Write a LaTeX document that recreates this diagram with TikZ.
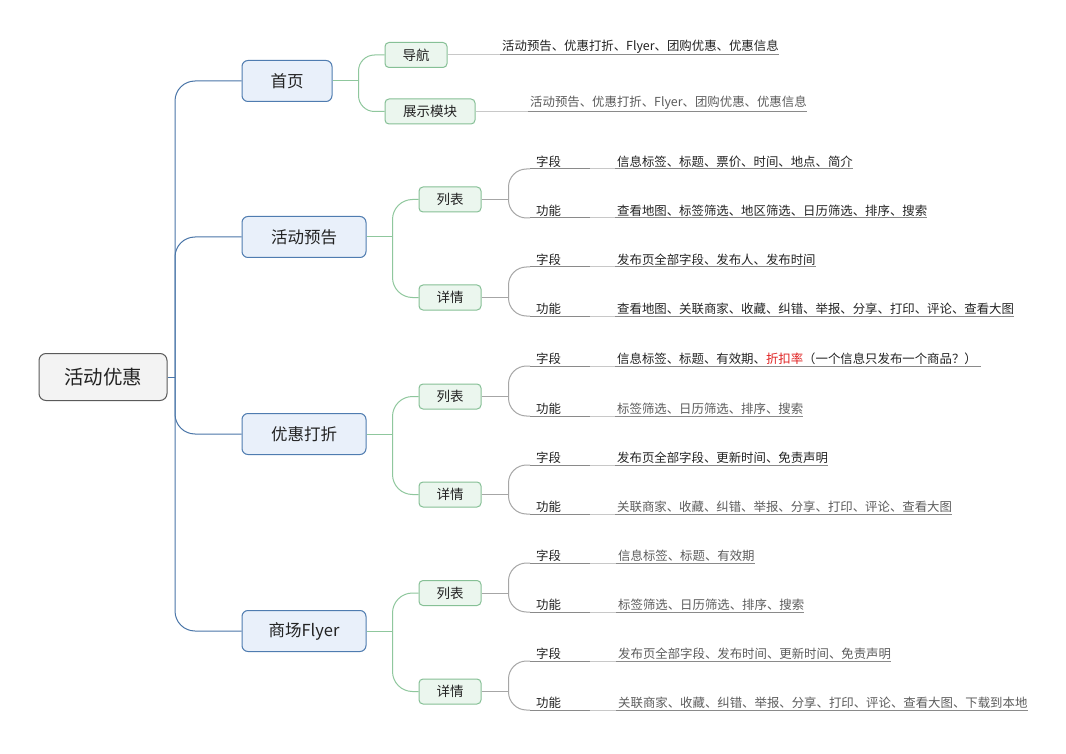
\documentclass[tikz,border=0pt]{standalone}
\usepackage{fontspec}
\setmainfont{Noto Sans CJK SC}
\usetikzlibrary{calc}

\definecolor{rootdraw}{HTML}{5A5A5A}
\definecolor{rootfill}{HTML}{F3F3F3}
\definecolor{bluedraw}{HTML}{4F7CB0}
\definecolor{bluefill}{HTML}{E9F0FA}
\definecolor{trunk}{HTML}{4A76A8}
\definecolor{greendraw}{HTML}{86C096}
\definecolor{greenfill}{HTML}{EBF6EE}
\definecolor{greenline}{HTML}{8FC79D}
\definecolor{greyline}{HTML}{A6A6A6}
\definecolor{ulc}{HTML}{8A8A8A}
\definecolor{lnkc}{HTML}{C8C8C8}
\definecolor{txt}{HTML}{222222}
\definecolor{txtg}{HTML}{5C5C5C}
\definecolor{warn}{HTML}{E02020}

\newcommand\ulin[1]{\draw[uln] (#1.south west) -- (#1.south east);}

\begin{document}
\begin{tikzpicture}[x=1pt,y=-1pt,
  rootbox/.style={draw=rootdraw, fill=rootfill, rounded corners=7pt, line width=1pt,
    minimum width=128pt, minimum height=47pt, text=txt, font=\fontsize{19.5}{22}\selectfont},
  mainbox/.style={draw=bluedraw, fill=bluefill, rounded corners=6pt, line width=1pt,
    minimum height=41pt, minimum width=124pt, text=txt, font=\fontsize{16.5}{19}\selectfont},
  subbox/.style={draw=greendraw, fill=greenfill, rounded corners=4pt, line width=1pt,
    minimum height=25pt, minimum width=62pt, inner ysep=0pt, text=txt, font=\fontsize{13.5}{16}\selectfont},
  lab/.style={anchor=south west, inner xsep=0pt, inner ysep=1.5pt, text=txt,
    font=\fontsize{12.4}{14}\selectfont},
  leaf/.style={lab},
  leafg/.style={lab, text=txtg},
  uln/.style={draw=ulc, line width=1pt},
  lnk/.style={draw=lnkc, line width=1pt},
  tline/.style={draw=trunk, line width=1pt},
  gline/.style={draw=greenline, line width=1pt},
  kline/.style={draw=greyline, line width=1pt},
]
\useasboundingbox (0,0) rectangle (1066,754);
\fill[white] (0,0) rectangle (1066,754);

% ---------- root and main topics ----------
\node[rootbox] (root) at (103,377) {活动优惠};
\node[mainbox, minimum width=90pt] (home) at (287,81) {首页};
\node[mainbox] (act) at (304,237) {活动预告};
\node[mainbox] (disc) at (304,434) {优惠打折};
\node[mainbox] (flyer) at (304,631) {商场Flyer};

\coordinate (rj) at (175,377);
\draw[tline] (root.east) -- (rj);
\foreach \m in {home,act,disc,flyer}
  \draw[tline, rounded corners=20pt] (rj) |- (\m.west);

% ---------- 首页 ----------
\node[subbox] (nav) at (416,55) {导航};
\node[subbox, minimum width=90pt] (show) at (430,111.5) {展示模块};
\coordinate (hj) at ($(home.east)+(26,0)$);
\draw[gline] (home.east) -- (hj);
\foreach \s in {nav,show}
  \draw[gline, rounded corners=16pt] (hj) |- (\s.west);

\node[leaf] (navT) at (500,55) {\hspace*{2pt}活动预告、优惠打折、Flyer、团购优惠、优惠信息};
\node[leafg] (showT) at (528,111.5) {\hspace*{2pt}活动预告、优惠打折、Flyer、团购优惠、优惠信息};
\ulin{navT}\ulin{showT}
\draw[lnk] (nav.east) -- (navT.south west);
\draw[lnk] (show.east) -- (showT.south west);

% ---------- 活动预告 ----------
\node[subbox] (aL) at (450,199.5) {列表};
\node[subbox] (aD) at (450,297.5) {详情};
\coordinate (aj) at ($(act.east)+(26,0)$);
\draw[gline] (act.east) -- (aj);
\foreach \s in {aL,aD}
  \draw[gline, rounded corners=20pt] (aj) |- (\s.west);

\node[lab] (aLf) at (530,169) {\hspace*{6pt}字段\hspace*{29pt}};
\node[lab] (aLg) at (530,218) {\hspace*{6pt}功能\hspace*{29pt}};
\node[lab] (aDf) at (530,267) {\hspace*{6pt}字段\hspace*{29pt}};
\node[lab] (aDg) at (530,316) {\hspace*{6pt}功能\hspace*{29pt}};
\node[leaf] (aLfT) at (615,169) {\hspace*{2pt}信息标签、标题、票价、时间、地点、简介};
\node[leaf] (aLgT) at (615,218) {\hspace*{2pt}查看地图、标签筛选、地区筛选、日历筛选、排序、搜索};
\node[leaf] (aDfT) at (615,267) {\hspace*{2pt}发布页全部字段、发布人、发布时间};
\node[leaf] (aDgT) at (615,316) {\hspace*{2pt}查看地图、关联商家、收藏、纠错、举报、分享、打印、评论、查看大图};

% ---------- 优惠打折 ----------
\node[subbox] (dL) at (450,396.5) {列表};
\node[subbox] (dD) at (450,494.5) {详情};
\coordinate (dj) at ($(disc.east)+(26,0)$);
\draw[gline] (disc.east) -- (dj);
\foreach \s in {dL,dD}
  \draw[gline, rounded corners=20pt] (dj) |- (\s.west);

\node[lab] (dLf) at (530,366) {\hspace*{6pt}字段\hspace*{29pt}};
\node[lab] (dLg) at (530,416) {\hspace*{6pt}功能\hspace*{29pt}};
\node[lab] (dDf) at (530,465) {\hspace*{6pt}字段\hspace*{29pt}};
\node[lab] (dDg) at (530,514) {\hspace*{6pt}功能\hspace*{29pt}};
\node[leaf] (dLfT) at (615,366) {\hspace*{2pt}信息标签、标题、有效期、\textcolor{warn}{折扣率}（一个信息只发布一个商品？）\hspace*{4pt}};
\node[leafg] (dLgT) at (615,416) {\hspace*{2pt}标签筛选、日历筛选、排序、搜索};
\node[leaf] (dDfT) at (615,465) {\hspace*{2pt}发布页全部字段、更新时间、免责声明};
\node[leafg] (dDgT) at (615,514) {\hspace*{2pt}关联商家、收藏、纠错、举报、分享、打印、评论、查看大图};

% ---------- 商场Flyer ----------
\node[subbox] (fL) at (450,593) {列表};
\node[subbox] (fD) at (450,691.5) {详情};
\coordinate (fj) at ($(flyer.east)+(26,0)$);
\draw[gline] (flyer.east) -- (fj);
\foreach \s in {fL,fD}
  \draw[gline, rounded corners=20pt] (fj) |- (\s.west);

\node[lab] (fLf) at (530,563) {\hspace*{6pt}字段\hspace*{29pt}};
\node[lab] (fLg) at (530,612) {\hspace*{6pt}功能\hspace*{29pt}};
\node[lab] (fDf) at (530,661) {\hspace*{6pt}字段\hspace*{29pt}};
\node[lab] (fDg) at (530,710) {\hspace*{6pt}功能\hspace*{29pt}};
\node[leafg] (fLfT) at (616,563) {\hspace*{2pt}信息标签、标题、有效期};
\node[leafg] (fLgT) at (616,612) {\hspace*{2pt}标签筛选、日历筛选、排序、搜索};
\node[leafg] (fDfT) at (616,661) {\hspace*{2pt}发布页全部字段、发布时间、更新时间、免责声明};
\node[leafg] (fDgT) at (616,710) {\hspace*{2pt}关联商家、收藏、纠错、举报、分享、打印、评论、查看大图、下载到本地};

% ---------- sub-topic branches, underlines and leaf links ----------
\foreach \s/\a/\b in {aL/aLf/aLg, aD/aDf/aDg, dL/dLf/dLg, dD/dDf/dDg, fL/fLf/fLg, fD/fDf/fDg}{
  \coordinate (\s j) at ($(\s.east)+(27,0)$);
  \draw[kline] (\s.east) -- (\s j);
  \draw[kline, rounded corners=18pt] (\s j) |- (\a.south west);
  \draw[kline, rounded corners=18pt] (\s j) |- (\b.south west);
}
\foreach \n in {aLf,aLg,aDf,aDg,dLf,dLg,dDf,dDg,fLf,fLg,fDf,fDg}{
  \ulin{\n}\ulin{\n T}
  \draw[lnk] (\n.south east) -- (\n T.south west);
}
\end{tikzpicture}
\end{document}
